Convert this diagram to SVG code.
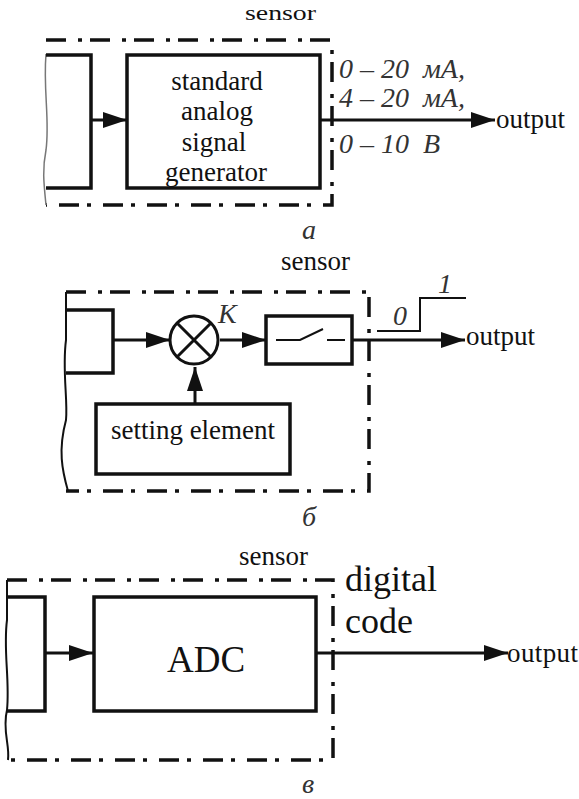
<svg xmlns="http://www.w3.org/2000/svg" width="579" height="799" viewBox="0 0 579 799">
<style>
text{font-family:"Liberation Serif",serif;fill:#111}
.t{font-size:27px}
.i{font-size:28px;font-style:italic;fill:#333}
.f{fill:none;stroke:#111;stroke-width:3.5;stroke-dasharray:20 12 4 8}
.b{fill:none;stroke:#111;stroke-width:3.5}
.l{fill:none;stroke:#111;stroke-width:3}
.w{fill:none;stroke:#777;stroke-width:1.5}
.w2{fill:none;stroke:#111;stroke-width:2}
</style>
<defs><marker id="a" markerUnits="userSpaceOnUse" markerWidth="24" markerHeight="18" refX="24" refY="9" orient="auto"><path d="M0 1L24 9L0 17Z" fill="#111"/></marker></defs>
<rect width="579" height="799" fill="#fff"/>
<g id="connectors">
<path class="l" d="M92 120H127" marker-end="url(#a)"/>
<path class="l" d="M320 120H495" marker-end="url(#a)"/>
<path class="l" d="M113 340H170" marker-end="url(#a)"/>
<path class="l" d="M220 340H266" marker-end="url(#a)"/>
<path class="l" d="M195 404V367" marker-end="url(#a)"/>
<path class="l" d="M353 340H465" marker-end="url(#a)"/>
<path class="l" d="M45 653H93" marker-end="url(#a)"/>
<path class="l" d="M316 653H508" marker-end="url(#a)"/>
</g>
<g id="frame-a">
<path class="f" d="M46 40H332V205H46"/>
<path class="w" d="M46 54C43 90 50 120 46 150C42 170 44 185 46 205"/>
</g>
<g id="source-a"><path class="b" d="M46 55H91V188H46"/></g>
<g id="generator">
<rect class="b" x="127" y="55" width="193" height="133"/>
<text class="t" text-anchor="middle" x="217" y="90">standard</text>
<text class="t" text-anchor="middle" x="217" y="120">analog</text>
<text class="t" text-anchor="middle" x="214" y="151">signal</text>
<text class="t" text-anchor="middle" x="216" y="181">generator</text>
</g>
<g id="labels-a">
<text x="245" y="20" font-size="22" textLength="71" lengthAdjust="spacingAndGlyphs">sensor</text>
<text class="i" x="339" y="78" xml:space="preserve">0 – 20  мА,</text>
<text class="i" x="339" y="107" xml:space="preserve">4 – 20  мА,</text>
<text class="i" x="339" y="153" xml:space="preserve">0 – 10  В</text>
<text class="t" x="496" y="128">output</text>
<text class="i" x="302" y="239">a</text>
</g>
<g id="frame-b">
<path class="f" d="M66 292H369V491H66"/>
<path class="w2" d="M66 292V340C62 370 68 400 66 420C58 450 62 470 68 491"/>
</g>
<g id="source-b"><path class="b" d="M66 310H113V373H66"/></g>
<g id="multiplier">
<circle cx="194" cy="340" r="24" fill="#fff" stroke="#111" stroke-width="3"/>
<path class="l" d="M177 323L211 357M211 323L177 357"/>
</g>
<g id="switch">
<rect class="b" x="266" y="316" width="86" height="48"/>
<path class="w2" d="M276 340H300L323 329M327 340H345"/>
</g>
<g id="setting-element">
<rect class="b" x="96" y="404" width="194" height="70"/>
<text class="t" text-anchor="middle" x="193" y="439">setting element</text>
</g>
<g id="labels-b">
<text class="t" x="281" y="270">sensor</text>
<text class="i" x="218" y="323">K</text>
<path class="w2" d="M377 331H420V298H466"/>
<text class="i" x="393" y="325">0</text>
<text class="i" x="438" y="293">1</text>
<text class="t" x="466" y="345">output</text>
<text class="i" x="302" y="526">б</text>
</g>
<g id="frame-c">
<path class="f" d="M7 580H333V760H7"/>
<path class="w2" d="M7 580V620C3 650 10 680 7 710C2 730 10 745 8 760"/>
</g>
<g id="source-c"><path class="b" d="M7 597H45V711H7"/></g>
<g id="adc">
<rect class="b" x="94" y="597" width="222" height="114"/>
<text x="206" y="672" font-size="37" text-anchor="middle">ADC</text>
</g>
<g id="labels-c">
<text class="t" x="239" y="565">sensor</text>
<text x="345" y="591" font-size="36">digital</text>
<text x="345" y="633" font-size="36">code</text>
<text class="t" x="507" y="662" textLength="71">output</text>
<text class="i" x="302" y="793">в</text>
</g>
</svg>
